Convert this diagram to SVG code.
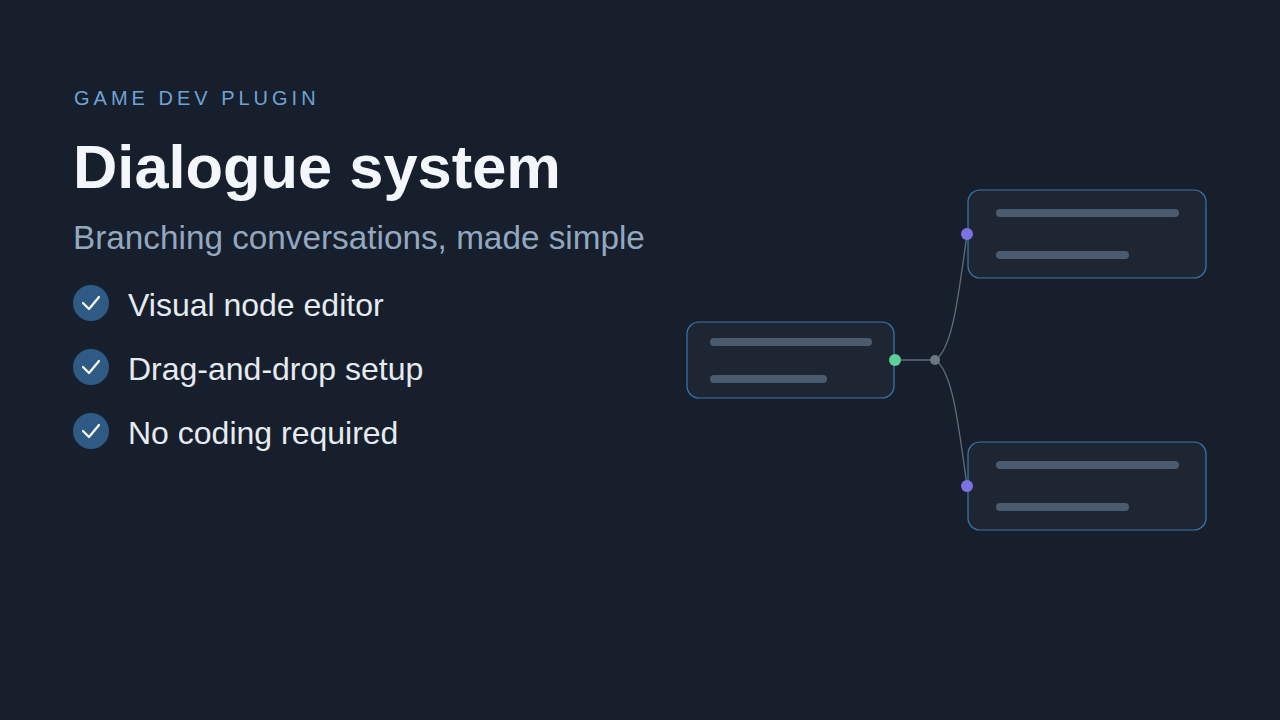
<svg xmlns="http://www.w3.org/2000/svg" width="1280" height="720" viewBox="0 0 1280 720">
<style>
.card{fill:#1e2633;stroke:#3b78b0;stroke-width:1.2}
.bar{stroke:#4b5a6c;stroke-width:8;stroke-linecap:round}
.chk{fill:#2e5a84}
.tick{fill:none;stroke:#fff;stroke-width:2.2;stroke-linecap:round;stroke-linejoin:round}
.item{font-family:"Liberation Sans",Arial,sans-serif;font-size:32px;fill:#e6ebf2}
.wire{fill:none;stroke:#5f6d7e;stroke-width:1.3}
</style>
<rect width="1280" height="720" fill="#161f2b"/>
<text x="74" y="105" font-family="Liberation Sans,Arial,sans-serif" font-size="20" letter-spacing="4" fill="#6fa3d6">GAME DEV PLUGIN</text>
<text x="73" y="188" font-family="Liberation Sans,Arial,sans-serif" font-size="61.4" font-weight="bold" fill="#f3f6fa">Dialogue system</text>
<text x="73" y="249" font-family="Liberation Sans,Arial,sans-serif" font-size="33.3" fill="#93a8c0">Branching conversations, made simple</text>
<g id="item1"><circle class="chk" cx="91" cy="303" r="18"/><path class="tick" d="M83,303 L89,309 L99,297"/><text class="item" x="128" y="316">Visual node editor</text></g>
<g id="item2"><circle class="chk" cx="91" cy="367" r="18"/><path class="tick" d="M83,367 L89,373 L99,361"/><text class="item" x="128" y="380">Drag-and-drop setup</text></g>
<g id="item3"><circle class="chk" cx="91" cy="431" r="18"/><path class="tick" d="M83,431 L89,437 L99,425"/><text class="item" x="128" y="444">No coding required</text></g>
<g id="connectors">
<path class="wire" d="M895,360 H935"/>
<path class="wire" d="M935,360 C952,350 958,300 967,234"/>
<path class="wire" d="M935,360 C952,370 958,420 967,486"/>
</g>
<g id="node-source"><rect class="card" x="687" y="322" width="207" height="76" rx="12"/><line class="bar" x1="714" y1="342" x2="868" y2="342"/><line class="bar" x1="714" y1="379" x2="823" y2="379"/><circle cx="895" cy="360" r="6" fill="#5ccf9e"/></g>
<g id="junction"><circle cx="935" cy="360" r="5" fill="#6c7682"/></g>
<g id="node-top"><rect class="card" x="968" y="190" width="238" height="88" rx="12"/><line class="bar" x1="1000" y1="213" x2="1175" y2="213"/><line class="bar" x1="1000" y1="255" x2="1125" y2="255"/><circle cx="967" cy="234" r="6" fill="#7b74e0"/></g>
<g id="node-bottom"><rect class="card" x="968" y="442" width="238" height="88" rx="12"/><line class="bar" x1="1000" y1="465" x2="1175" y2="465"/><line class="bar" x1="1000" y1="507" x2="1125" y2="507"/><circle cx="967" cy="486" r="6" fill="#7b74e0"/></g>
</svg>
